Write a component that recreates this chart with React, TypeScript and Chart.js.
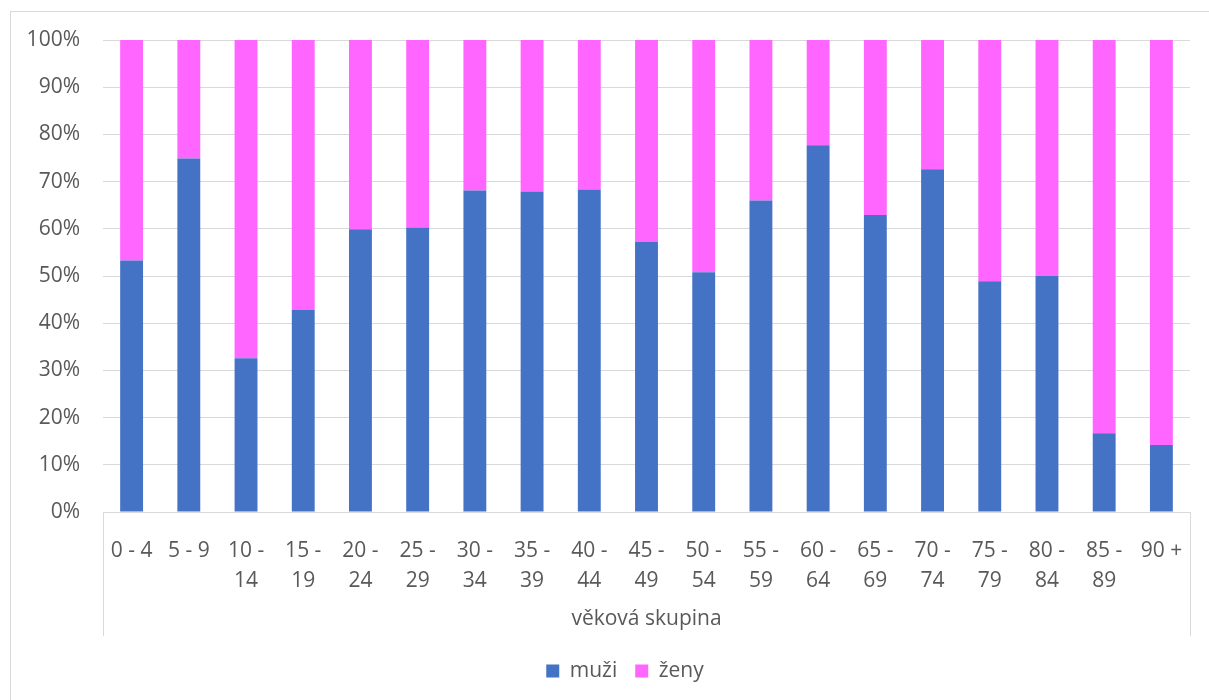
import React, { useEffect, useRef } from "react";
import { Chart, registerables } from "chart.js";

Chart.register(...registerables);

const categories: string[][] = [
  ["0 - 4"], ["5 - 9"], ["10 -", "14"], ["15 -", "19"], ["20 -", "24"], ["25 -", "29"],
  ["30 -", "34"], ["35 -", "39"], ["40 -", "44"], ["45 -", "49"], ["50 -", "54"],
  ["55 -", "59"], ["60 -", "64"], ["65 -", "69"], ["70 -", "74"], ["75 -", "79"],
  ["80 -", "84"], ["85 -", "89"], ["90 +"],
];

const muzi: number[] = [
  53.3, 74.9, 32.6, 42.8, 59.9, 60.3, 68.1, 67.9, 68.3, 57.2,
  50.8, 66.0, 77.7, 62.9, 72.6, 48.9, 50.0, 16.7, 14.2,
];

const zeny: number[] = [
  46.7, 25.1, 67.4, 57.2, 40.1, 39.7, 31.9, 32.1, 31.7, 42.8,
  49.2, 34.0, 22.3, 37.1, 27.4, 51.1, 50.0, 83.3, 85.8,
];

const yTicks: number[] = [0, 10, 20, 30, 40, 50, 60, 70, 80, 90, 100];

const axisTitle = "věková skupina";
const seriesNames = ["muži", "ženy"];

const FONT = "'Open Sans', 'Noto Sans', sans-serif";
const TEXT = "#595959";
const GRID = "#d9d9d9";
const LEGEND_PAD = 18;
const LEGEND_FONT = 21;

const framePlugin = {
  id: "frame",
  afterLayout(chart: any) {
    const lg = chart.legend;
    if (lg) {
      const dx = 30;
      const dy = 671 - LEGEND_PAD - LEGEND_FONT / 2 - lg.top;
      lg.left += dx;
      lg.right += dx;
      lg.top += dy;
      lg.bottom += dy;
    }
  },
  afterDraw(chart: any) {
    const { ctx, chartArea } = chart;
    const xs = chart.scales.x;
    ctx.save();
    ctx.strokeStyle = GRID;
    ctx.lineWidth = 1;
    ctx.strokeRect(10.5, 11.5, 1300, 800);
    ctx.beginPath();
    ctx.moveTo(Math.round(chartArea.left) + 0.5, chartArea.bottom);
    ctx.lineTo(Math.round(chartArea.left) + 0.5, xs.bottom);
    ctx.moveTo(Math.round(chartArea.right) + 0.5, chartArea.bottom);
    ctx.lineTo(Math.round(chartArea.right) + 0.5, xs.bottom);
    ctx.stroke();
    ctx.restore();
  },
};

export default function App() {
  const ref = useRef<HTMLCanvasElement | null>(null);

  useEffect(() => {
    if (!ref.current) return;
    const chart = new Chart(ref.current, {
      type: "bar",
      data: {
        labels: categories,
        datasets: [
          {
            label: seriesNames[0],
            data: muzi,
            backgroundColor: "#4472C4",
            barPercentage: 0.4,
            categoryPercentage: 1,
          },
          {
            label: seriesNames[1],
            data: zeny,
            backgroundColor: "#FF66FF",
            barPercentage: 0.4,
            categoryPercentage: 1,
          },
        ],
      },
      options: {
        responsive: false,
        animation: false,
        layout: { padding: { top: 40, left: 0, right: 19, bottom: 15 } },
        plugins: {
          tooltip: { enabled: false },
          legend: {
            position: "bottom",
            labels: {
              font: { family: FONT, size: LEGEND_FONT },
              color: TEXT,
              boxWidth: 13,
              boxHeight: 13,
              padding: LEGEND_PAD,
            },
          },
        },
        scales: {
          x: {
            stacked: true,
            grid: { display: false },
            border: { display: true, color: GRID, width: 1 },
            ticks: {
              font: { family: FONT, size: 21, lineHeight: 30 / 21 },
              color: TEXT,
              padding: 16,
              maxRotation: 0,
              autoSkip: false,
            },
            title: {
              display: true,
              text: axisTitle,
              font: { family: FONT, size: 21 },
              color: TEXT,
              padding: { top: 4, bottom: 4 },
            },
            afterFit(scale: any) {
              scale.height = 124;
            },
          },
          y: {
            stacked: true,
            min: 0,
            max: 100,
            afterBuildTicks(scale: any) {
              scale.ticks = yTicks.map((v) => ({ value: v }));
            },
            grid: { color: GRID, lineWidth: 1, drawTicks: false },
            border: { display: false },
            ticks: {
              font: { family: FONT, size: 21 },
              color: TEXT,
              padding: 23,
              callback: (v: any) => v + "%",
            },
            afterFit(scale: any) {
              scale.width = 103;
            },
          },
        },
      },
      plugins: [framePlugin],
    });
    return () => chart.destroy();
  }, []);

  return (
    <div style={{ position: "fixed", left: 0, top: 0, width: 1209, height: 700, background: "#fff" }}>
      <canvas ref={ref} width={1209} height={700} />
    </div>
  );
}
